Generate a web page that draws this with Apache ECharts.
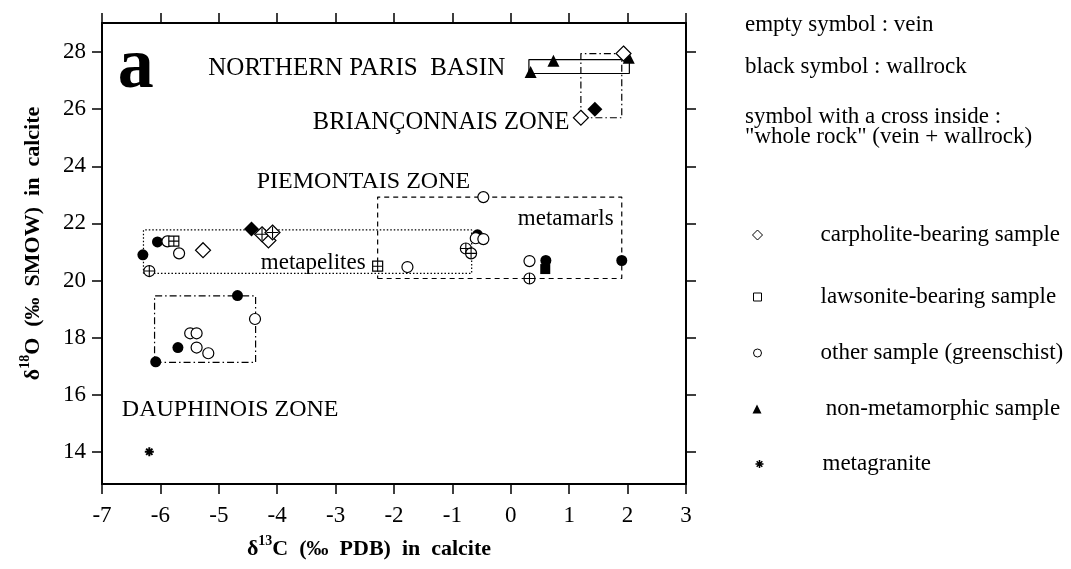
<!DOCTYPE html>
<html><head><meta charset="utf-8">
<script src="https://cdn.jsdelivr.net/npm/echarts@6/dist/echarts.min.js"></script>
<style>html,body{margin:0;padding:0;background:#fff}#c{width:1071px;height:569px}</style>
</head><body><div id="c"></div>
<script>
// ---- data (δ13C, δ18O) ----
const xTicks = [-7,-6,-5,-4,-3,-2,-1,0,1,2,3];
const yTicks = [14,16,18,20,22,24,26,28];

const filledCircle = [[-6.3,20.9],[-6.05,21.35],[-4.68,19.47],[-5.7,17.65],[-6.08,17.15],[-0.57,21.6],[0.6,20.7],[1.9,20.7]];
const openCircle = [[-5.88,21.37],[-5.68,20.95],[-0.6,21.48],[-0.47,21.45],[-0.47,22.92],[-1.77,20.47],[0.32,20.68],[-4.38,18.65],[-5.49,18.15],[-5.38,18.15],[-5.38,17.65],[-5.18,17.45]];
const crossCircle = [[-6.19,20.33],[-0.77,21.12],[-0.68,20.95],[0.32,20.07]];
const crossSquare = [[-5.77,21.38],[-2.28,20.5]];
const filledSquare = [[0.59,20.4]];
const filledDiamond = [[-4.44,21.8],[1.44,26.0]];
const openDiamond = [[-5.27,21.06],[-4.15,21.4],[1.2,25.7],[1.93,27.95]];
const crossDiamond = [[-4.26,21.62],[-4.08,21.68]];
const filledTriangle = [[0.34,27.3],[0.73,27.7],[2.02,27.8]];
const metagranite = [[-6.19,14.0]];

// group outlines (δ13C range, δ18O range)
const boxNorthernParis = {x:[0.31,2.03], y:[27.25,27.74]};
const boxBrianconnais = {x:[1.2,1.9], y:[25.7,27.95]};
const boxMetapelites = {x:[-6.29,-0.67], y:[20.25,21.77]};
const boxMetamarls = {x:[-2.28,1.9], y:[20.07,22.92]};
const boxDauphinois = {x:[-6.1,-4.37], y:[17.13,19.46]};

// annotation anchors (data coords, left-middle of text)
const zoneLabels = [
  {text:'a', x:-6.73, y:27.42, size:72, weight:'bold'},
  {text:'NORTHERN PARIS  BASIN', x:-5.18, y:27.42, size:25, weight:'normal'},
  {text:'BRIANÇONNAIS ZONE', x:-3.39, y:25.53, size:24.5, weight:'normal'},
  {text:'PIEMONTAIS ZONE', x:-4.35, y:23.45, size:24, weight:'normal'},
  {text:'metapelites', x:-4.28, y:20.61, size:23, weight:'normal'},
  {text:'metamarls', x:0.12, y:22.15, size:23, weight:'normal'},
  {text:'DAUPHINOIS ZONE', x:-6.66, y:15.46, size:24, weight:'normal'}
];

const FF = '"Liberation Serif","Times New Roman",serif';
const CROSS = 'path://M0,-10L0,10M-10,0L10,0';
const STAR = 'path://M-10,0L10,0M0,-10L0,10M-7,-7L7,7M-7,7L7,-7';
const N_CARP = 'carpholite-bearing sample', N_LAW = 'lawsonite-bearing sample',
      N_OTH = 'other sample (greenschist)', N_NON = ' non-metamorphic sample', N_MG = 'metagranite';

function rect(b){ return [[b.x[0],b.y[0]],[b.x[1],b.y[0]],[b.x[1],b.y[1]],[b.x[0],b.y[1]],[b.x[0],b.y[0]]]; }
function boxSeries(b, type){
  return {type:'line', data:rect(b), symbol:'none', silent:true, z:1,
    lineStyle:{color:'#000', width:1.2, type:type, opacity:1}, animation:false};
}
const open = {color:'#fff', borderColor:'#000', borderWidth:1.2, opacity:1};
const solid = {color:'#000', borderColor:'#000', borderWidth:0, opacity:1};
const crossStyle = {color:'none', borderColor:'#000', borderWidth:1.1, opacity:1};
function sc(name, data, symbol, size, style, z){
  return {type:'scatter', name, data, symbol, symbolSize:size, itemStyle:style, z:z||3, animation:false};
}

const series = [
  boxSeries(boxNorthernParis, 'solid'),
  boxSeries(boxBrianconnais, [7,3,1.5,3]),
  boxSeries(boxMetapelites, [1.5,2]),
  boxSeries(boxMetamarls, [5,4]),
  boxSeries(boxDauphinois, [7,3,1.5,3]),
  sc(N_OTH, filledCircle, 'circle', 11, solid, 3),
  sc(N_OTH, openCircle, 'circle', 11, open, 4),
  sc(N_OTH, crossCircle, 'circle', 11, open, 4),
  sc(N_OTH, crossCircle, CROSS, 11, crossStyle, 5),
  sc(N_LAW, filledSquare, 'rect', 10, solid, 3),
  sc(N_LAW, crossSquare, 'rect', 10, open, 4),
  sc(N_LAW, crossSquare, CROSS, 10, crossStyle, 5),
  sc(N_CARP, filledDiamond, 'diamond', 15, solid, 3),
  sc(N_CARP, openDiamond, 'diamond', 15, open, 4),
  sc(N_CARP, crossDiamond, 'diamond', 15, open, 4),
  sc(N_CARP, crossDiamond, CROSS, 12, crossStyle, 5),
  sc(N_NON, filledTriangle, 'triangle', 12, solid, 3),
  sc(N_MG, metagranite, STAR, 9, {color:'none', borderColor:'#000', borderWidth:2, opacity:1}, 3),
  {type:'scatter', silent:true, symbolSize:0, z:6, animation:false,
   itemStyle:{color:'#000', opacity:1},
   data: zoneLabels.map(l => ({value:[l.x,l.y], label:{formatter:l.text, fontSize:l.size, fontWeight:l.weight}})),
   label:{show:true, position:[0,0], align:'left', verticalAlign:'middle', color:'#000', opacity:1,
          textBorderWidth:0, textBorderColor:'transparent', textShadowBlur:0, fontFamily:FF}}
];

const legendItems = [
  {name:N_CARP, icon:'diamond', w:10, h:10, style:{color:'#fff', borderColor:'#000', borderWidth:1, opacity:1}, cy:235},
  {name:N_LAW, icon:'rect', w:8, h:8, style:{color:'#fff', borderColor:'#000', borderWidth:1, opacity:1}, cy:297},
  {name:N_OTH, icon:'circle', w:8, h:8, style:{color:'#fff', borderColor:'#000', borderWidth:1, opacity:1}, cy:353},
  {name:N_NON, icon:'triangle', w:9, h:9, style:{color:'#000', borderColor:'#000', borderWidth:0, opacity:1}, cy:409},
  {name:N_MG, icon:STAR, w:8, h:8, style:{color:'none', borderColor:'#000', borderWidth:1.5, opacity:1}, cy:464}
];
const legend = legendItems.map(it => ({
  show:true, orient:'vertical', selectedMode:false, padding:0, left: 757 - it.w/2, top: it.cy - 12,
  itemWidth:it.w, itemHeight:it.h,
  data:[{name:it.name, icon:it.icon, itemStyle:it.style}],
  textStyle:{fontFamily:FF, fontSize:23, color:'#000', lineHeight:24, padding:[0,0,0,63 - it.w/2 - 5]}
}));

const noteLines = [
  {text:'empty symbol : vein', cy:25},
  {text:'black symbol : wallrock', cy:67},
  {text:'symbol with a cross inside :', cy:117},
  {text:'"whole rock" (vein + wallrock)', cy:137}
];

const axisLineStyle = {color:'#000', width:2};
const nameRich = {
  d:{fontFamily:FF, fontSize:22, fontWeight:'bold', color:'#000', lineHeight:26, verticalAlign:'bottom'},
  s:{fontFamily:FF, fontSize:14, fontWeight:'bold', color:'#000', lineHeight:18, verticalAlign:'top'},
  b:{fontFamily:FF, fontSize:22, fontWeight:'bold', color:'#000', lineHeight:26, verticalAlign:'bottom'}
};
const option = {
  backgroundColor:'#fff',
  animation:false,
  grid:{left:102, right:385, top:23, bottom:85, containLabel:false},
  xAxis:[
    {type:'value', min:-7, max:3, interval:1, position:'bottom',
     axisLine:{show:true, onZero:false, lineStyle:axisLineStyle},
     axisTick:{show:true, length:10, lineStyle:{color:'#000', width:1.5}},
     axisLabel:{show:true, margin:20, color:'#000', fontFamily:FF, fontSize:23},
     splitLine:{show:false},
     name:'{d|δ}{s|13}{b|C  (‰  PDB)  in  calcite}', nameLocation:'middle', nameGap:50,
     nameTextStyle:{padding:[0,50,0,0], rich:nameRich}},
    {type:'value', min:-7, max:3, interval:1, position:'top',
     axisLine:{show:true, onZero:false, lineStyle:axisLineStyle},
     axisTick:{show:true, length:10, lineStyle:{color:'#000', width:1.5}},
     axisLabel:{show:false}, splitLine:{show:false}}
  ],
  yAxis:[
    {type:'value', min:12.87, max:29.02, position:'left',
     axisLine:{show:true, onZero:false, lineStyle:axisLineStyle},
     axisTick:{show:true, length:10, customValues:yTicks, lineStyle:{color:'#000', width:1.5}},
     axisLabel:{show:true, margin:16, customValues:yTicks, color:'#000', fontFamily:FF, fontSize:23},
     splitLine:{show:false},
     name:'{d|δ}{s|18}{b|O  (‰  SMOW)  in  calcite}', nameLocation:'middle', nameGap:58,
     nameTextStyle:{padding:[0,0,0,20], rich:nameRich}},
    {type:'value', min:12.87, max:29.02, position:'right',
     axisLine:{show:true, onZero:false, lineStyle:axisLineStyle},
     axisTick:{show:true, length:10, customValues:yTicks, lineStyle:{color:'#000', width:1.5}},
     axisLabel:{show:false}, splitLine:{show:false}}
  ],
  legend: legend,
  graphic: noteLines.map(n => ({type:'text', left:745, top:n.cy - 12,
     style:{text:n.text, fontFamily:FF, fontSize:23, fill:'#000', lineHeight:24}})),
  series: series
};
const chart = echarts.init(document.getElementById('c'), null, {renderer:'canvas'});
chart.setOption(option);
</script></body></html>
